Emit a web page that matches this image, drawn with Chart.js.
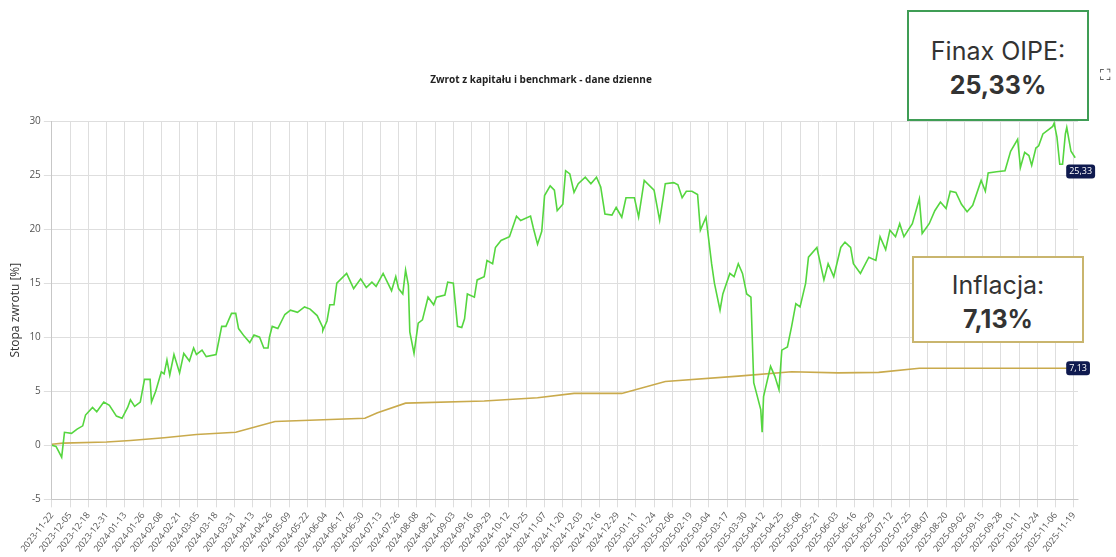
<!DOCTYPE html>
<html>
<head>
<meta charset="utf-8">
<script src="https://cdn.jsdelivr.net/npm/chart.js@4/dist/chart.umd.min.js"></script>
<style>
  body { margin: 0; background: #fff; font-family: "Open Sans", sans-serif; }
  #wrap { position: relative; width: 1116px; height: 557px; }
  .box { position: absolute; background: #fff; text-align: center; color: #333; font-family: Inter, "Noto Sans", sans-serif; font-size: 25px; line-height: 34px; box-sizing: border-box; }
  .box b { font-weight: 700; }
  #finax { left: 907px; top: 10px; width: 182px; height: 111px; border: 2px solid #3f9d55; padding-top: 22px; }
  #infl { left: 912px; top: 256px; width: 172px; height: 87px; border: 2px solid #c9b56e; padding-top: 10px; }
  #fs { position: absolute; left: 1100px; top: 64px; font-size: 15px; color: #333; }
</style>
</head>
<body>
<div id="wrap">
  <canvas id="myChart" width="1116" height="557"></canvas>
  <div class="box" id="finax">Finax OIPE:<br><b>25,33%</b></div>
  <div class="box" id="infl">Inflacja:<br><b>7,13%</b></div>
  <div id="fs">⛶</div>
</div>
<script>
// day index counted from 2023-11-22
var startDate = '2023-11-22';
var tickStep = 13;

var fundDays = [0,3,7,9,14,18,22,24,29,32,37,41,46,50,54,56,59,63,66,70,71,74,78,80,82,84,87,91,94,98,101,103,107,110,117,121,124,128,131,133,137,141,144,148,151,154,155,157,161,166,170,175,180,184,189,193,193,196,198,201,203,210,215,220,224,228,231,
  236,242,245,247,250,252,254,255,258,261,264,268,272,274,280,282,286,289,292,294,296,301,303,308,310,314,316,320,326,331,334,341,343,346,349,351,355,358,360,364,366,369,372,375,380,384,388,391,394,399,402,406,409,415,418,422,429,433,437,443,446,449,452,456,460,
  462,466,470,472,476,478,483,486,489,492,495,498,500,502,505,506,507,512,515,518,520,524,527,530,533,537,539,545,550,553,557,562,565,569,571,576,582,587,590,594,597,601,604,607,610,613,618,620,625,629,633,637,640,644,648,652,656,662,665,667,673,679,683,688,690,693,696,698,701,703,706,713,714,716,718,720,722,723,726,729];
var fundValues = [0,-0.1,-1.1,1.2,1.1,1.5,1.8,2.8,3.5,3.1,4.0,3.7,2.7,2.5,3.5,4.2,3.6,4.0,6.1,6.1,4.0,5.0,6.8,6.6,7.9,6.5,8.4,6.7,8.5,7.8,9.0,8.4,8.8,8.2,8.4,11.0,11.0,12.2,12.2,10.8,10.1,9.5,10.2,10.0,9.0,9.0,10.0,11.0,10.8,12.1,12.5,12.3,12.8,12.6,12.0,10.9,10.6,11.5,13.0,13.0,15.0,15.9,14.5,15.4,14.6,15.1,14.7,
  15.9,14.3,15.6,14.5,14.0,16.2,14.8,10.5,8.5,11.3,11.6,13.7,13.0,13.7,13.9,15.1,15.0,11.0,10.9,11.7,14.0,13.7,15.3,15.6,17.1,16.8,18.3,18.95,19.3,21.2,20.8,21.2,20.1,18.6,19.8,23.1,24.0,23.6,21.7,22.3,25.4,25.1,23.4,24.2,24.8,24.2,24.8,23.9,21.4,21.3,22.0,21.1,22.9,22.9,21.1,24.5,23.6,20.8,24.2,24.3,24.1,22.9,23.5,23.5,23.2,
  19.9,21.1,16.8,15.0,12.5,14.0,15.9,15.6,16.8,15.9,14.0,13.7,5.8,4.8,3.3,1.2,4.5,7.3,6.4,5.15,8.8,9.1,11.0,13.1,12.8,15.0,17.4,18.3,15.3,16.8,15.6,18.3,18.8,18.3,16.8,15.9,17.4,17.1,19.3,18.1,19.9,19.3,20.5,19.3,19.9,20.5,22.8,19.6,20.5,21.7,22.5,21.9,23.5,23.4,22.3,21.6,22.2,24.5,23.5,25.2,25.3,25.4,27.2,28.3,25.7,27.1,26.8,25.9,27.5,27.7,28.8,29.5,29.8,28.5,26.0,26.0,28.8,29.4,27.2,26.6];

var inflDays = [0,8,39,56,80,103,131,159,223,232,252,308,346,372,406,437,489,527,560,589,618,729];
var inflValues = [0.1,0.2,0.3,0.45,0.7,1.0,1.2,2.2,2.5,3.0,3.9,4.1,4.4,4.8,4.8,5.9,6.4,6.8,6.7,6.75,7.13,7.13];

var lastLabels = ['25,33', '7,13'];

function dayLabel(d) {
  var t = new Date(startDate + 'T00:00:00Z');
  t.setUTCDate(t.getUTCDate() + d);
  return t.toISOString().slice(0, 10);
}

var endLabelPlugin = {
  id: 'endLabels',
  afterDatasetsDraw: function (chart) {
    var ctx = chart.ctx;
    chart.data.datasets.forEach(function (ds, i) {
      var meta = chart.getDatasetMeta(i);
      var pt = meta.data[meta.data.length - 1];
      var txt = lastLabels[i];
      ctx.save();
      ctx.font = '9px "Open Sans"';
      var w = ctx.measureText(txt).width + 6;
      var y = i === 0 ? chart.scales.y.getPixelForValue(25.33) : pt.y;
      ctx.fillStyle = '#0f1a4f';
      ctx.beginPath();
      ctx.roundRect(pt.x - 9, y - 7, w, 14, 3);
      ctx.fill();
      ctx.fillStyle = '#fff';
      ctx.textBaseline = 'middle';
      ctx.fillText(txt, pt.x - 6, y);
      ctx.restore();
    });
  }
};

var ctx = document.getElementById('myChart').getContext('2d');
var myChart = new Chart(ctx, {
  type: 'line',
  data: {
    datasets: [{
      label: 'Finax OIPE',
      data: fundDays.map(function (d, i) { return { x: d, y: fundValues[i] }; }),
      borderColor: '#55d63f',
      borderWidth: 1.6,
      pointRadius: 0,
      tension: 0
    }, {
      label: 'Inflacja',
      data: inflDays.map(function (d, i) { return { x: d, y: inflValues[i] }; }),
      borderColor: '#c9aa4c',
      borderWidth: 1.6,
      pointRadius: 0,
      tension: 0
    }]
  },
  options: {
    responsive: false,
    animation: false,
    layout: { padding: { top: 74, right: 38, left: 4, bottom: 0 } },
    plugins: {
      legend: { display: false },
      title: {
        display: true,
        text: 'Zwrot z kapitału i benchmark - dane dzienne',
        font: { size: 10, weight: 'bold', family: '"Open Sans"' },
        color: '#222',
        padding: { top: 0, bottom: 35 }
      }
    },
    scales: {
      x: {
        type: 'linear',
        min: 0,
        max: 731,
        afterBuildTicks: function (axis) {
          var t = [];
          for (var d = 0; d <= 728; d += tickStep) t.push({ value: d });
          axis.ticks = t;
        },
        ticks: {
          autoSkip: false,
          minRotation: 52,
          maxRotation: 52,
          font: { size: 9, family: '"Open Sans"' },
          color: '#555',
          callback: function (v) { return dayLabel(v); }
        },
        grid: { color: '#dedede' }
      },
      y: {
        min: -5,
        max: 30,
        ticks: { stepSize: 5, font: { size: 10, family: '"Open Sans"' }, color: '#555' },
        grid: { color: '#dedede' },
        title: { display: true, text: 'Stopa zwrotu [%]', font: { size: 12, family: '"Open Sans"' }, color: '#333' }
      }
    }
  },
  plugins: [endLabelPlugin]
});
</script>
</body>
</html>
